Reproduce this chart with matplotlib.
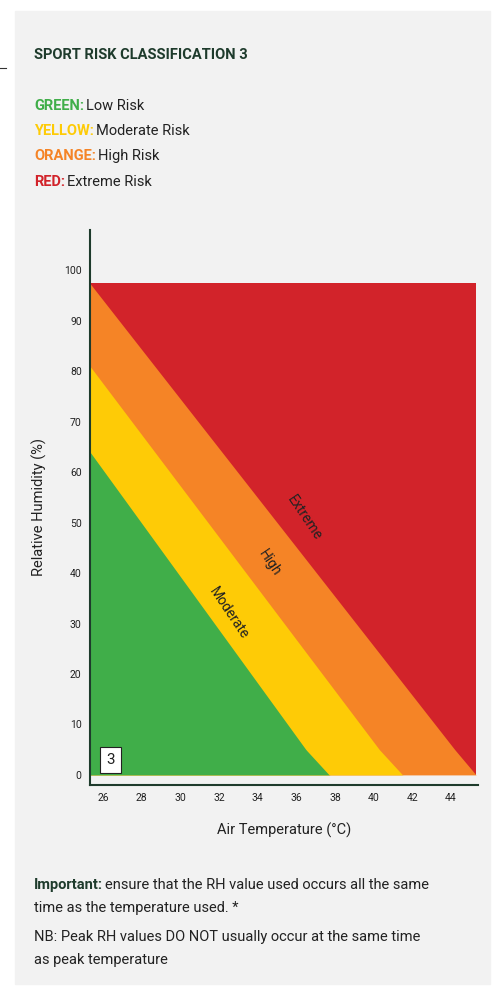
import numpy as np
import matplotlib.pyplot as plt
from matplotlib.patches import Rectangle

plt.rcParams['font.family'] = ['Roboto', 'DejaVu Sans']

# boundaries (air temp degC, RH %)
green_t = [25.33, 36.5, 37.7]
green_rh = [64, 5, 0]
yellow_t = [25.33, 40.3, 41.5]
yellow_rh = [81, 5, 0]
orange_t = [25.33, 44.2, 45.3]
orange_rh = [97.4, 5, 0]
xticks = [26, 28, 30, 32, 34, 36, 38, 40, 42, 44]
yticks = [0, 10, 20, 30, 40, 50, 60, 70, 80, 90, 100]

GREEN, YELLOW, ORANGE, RED = '#40ae49', '#fecb06', '#f58426', '#d2232a'
DARK = '#1e3b2c'
TOP, XMIN, XMAX = 97.4, 25.33, 45.3

W, H = 500, 996
fig = plt.figure(figsize=(W / 100, H / 100), dpi=100)
fig.patches.append(Rectangle((15 / W, 12 / H), 475 / W, 973 / H, transform=fig.transFigure,
                             color='#f2f2f2', zorder=-10))

ax = fig.add_axes([90 / W, 211 / H, 388 / W, 555 / H])
ax.set_facecolor('none')
ax.fill_between([XMIN, XMAX], 0, TOP, color=RED, lw=0)
grid = np.linspace(XMIN, XMAX, 300)
ax.fill_between(grid, 0, np.interp(grid, orange_t, orange_rh), color=ORANGE, lw=0)
ax.fill_between(grid, 0, np.interp(grid, yellow_t, yellow_rh), color=YELLOW, lw=0)
ax.fill_between(grid, 0, np.interp(grid, green_t, green_rh), color=GREEN, lw=0)
ax.set_xlim(XMIN, 45.4)
ax.set_ylim(-2, 108)
ax.set_xticks(xticks)
ax.set_yticks(yticks)
ax.tick_params(length=0, labelsize=7.5, colors='#222222', pad=6)
for s in ['top', 'right']:
    ax.spines[s].set_visible(False)
for s in ['left', 'bottom']:
    ax.spines[s].set_color(DARK)
    ax.spines[s].set_linewidth(1.5)
ax.set_xlabel('Air Temperature (°C)', fontsize=10.5, labelpad=14, color='#222222')
ax.set_ylabel('Relative Humidity (%)', fontsize=10.5, labelpad=12, color='#222222')

ax.text(32.5, 32, 'Moderate', rotation=-56, fontsize=10, ha='center', va='center', color='#222222')
ax.text(34.6, 42, 'High', rotation=-56, fontsize=10, ha='center', va='center', color='#222222')
ax.text(36.4, 51, 'Extreme', rotation=-56, fontsize=10, ha='center', va='center', color='#222222')
ax.text(26.4, 3, '3', fontsize=11, ha='center', va='center', color='#222222',
        bbox=dict(boxstyle='square,pad=0.4', fc='white', ec='#222222', lw=0.8))

fig.text(34 / W, 1 - 55 / H, 'SPORT RISK CLASSIFICATION 3', fontsize=10.5, weight='bold',
         color=DARK, va='center')

renderer = fig.canvas.get_renderer()


def two_part(x, y, bold, rest, color, size=10.5):
    t = fig.text(x / W, 1 - y / H, bold, fontsize=size, weight='bold', color=color, va='center')
    bb = t.get_window_extent(renderer)
    fig.text(bb.x1 / W + 0.004, 1 - y / H, rest, fontsize=size, color='#222222', va='center')


two_part(34, 106, 'GREEN:', 'Low Risk', GREEN)
two_part(34, 131, 'YELLOW:', 'Moderate Risk', YELLOW)
two_part(34, 156, 'ORANGE:', 'High Risk', ORANGE)
two_part(34, 182, 'RED:', 'Extreme Risk', RED)
two_part(34, 885, 'Important:', 'ensure that the RH value used occurs all the same', DARK)
fig.text(34 / W, 1 - 908 / H, 'time as the temperature used. *', fontsize=10.5, color='#222222', va='center')
fig.text(34 / W, 1 - 937 / H, 'NB: Peak RH values DO NOT usually occur at the same time',
         fontsize=10.5, color='#222222', va='center')
fig.text(34 / W, 1 - 960 / H, 'as peak temperature', fontsize=10.5, color='#222222', va='center')
fig.lines.append(plt.Line2D([0, 6 / W], [1 - 68 / H] * 2, transform=fig.transFigure, color='#333333', lw=0.8))

fig.savefig('out.png', dpi=100)
